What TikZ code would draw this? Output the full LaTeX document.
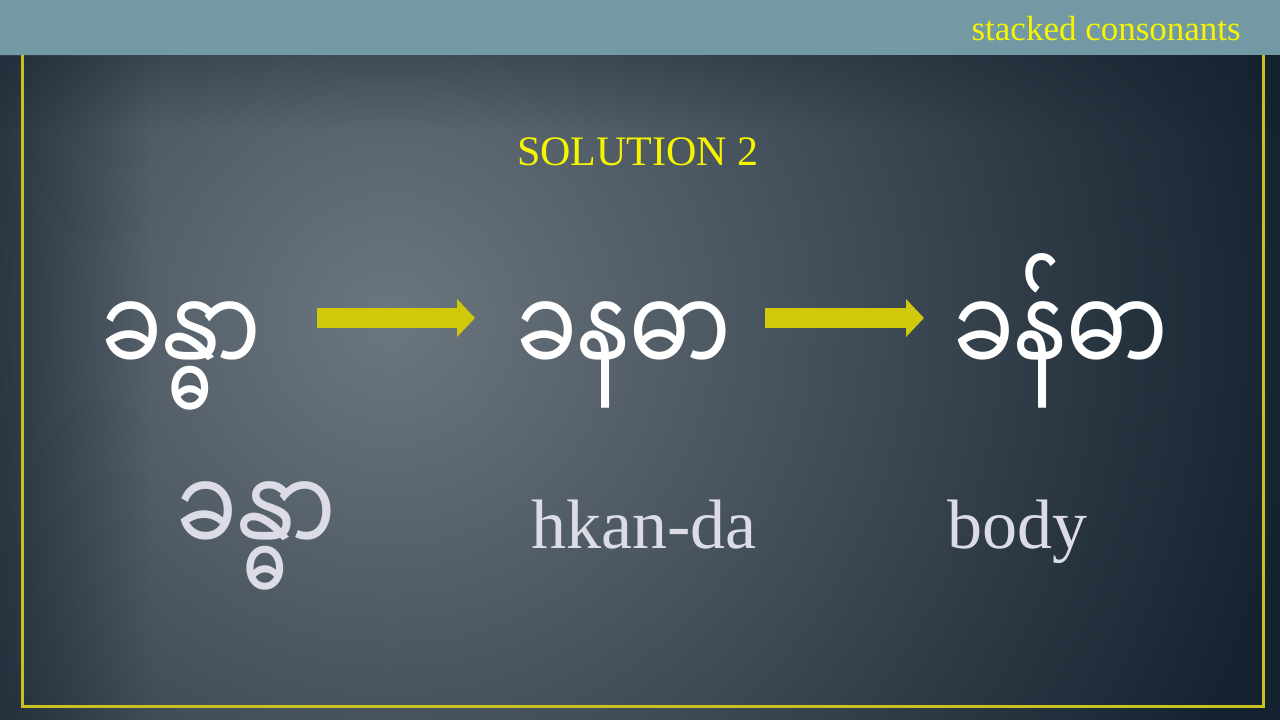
\documentclass[tikz,border=0pt]{standalone}
\usepackage{fontspec}
\setmainfont{Liberation Serif}
\newfontfamily\mmfont[Script=Myanmar]{Noto Sans Myanmar UI}
\usepackage{xcolor}
\usepackage{graphicx}
\usepackage{tikz}
\usetikzlibrary{arrows.meta}
\usetikzlibrary{positioning}
\usetikzlibrary{fadings}
\definecolor{bandblue}{HTML}{7399A5}
\definecolor{bglight}{HTML}{6C767F}
\definecolor{bgdark}{HTML}{14222F}
\definecolor{framegold}{HTML}{C8C21E}
\definecolor{arrowyellow}{HTML}{D0C80A}
\definecolor{titleyellow}{HTML}{F5F500}
\definecolor{glossgray}{HTML}{DCDCE6}
\tikzfading[name=fade right, left color=transparent!0, right color=transparent!100]
\tikzfading[name=fade down, top color=transparent!0, bottom color=transparent!100]
\newcommand{\mmtall}[1]{\scalebox{1}[1.3]{#1}}
\tikzset{>=latex}
\tikzset{word/.style = {text=white, inner sep=0, font=\mmfont\fontsize{90}{100}\selectfont}}
\tikzset{gloss/.style = {text=glossgray, inner sep=0, font=\fontsize{70}{80}\selectfont}}
\tikzset{blockarrow/.style = {draw=arrowyellow, line width=20pt, -{Triangle[width=37pt,length=18pt]}}}

\begin{document}
\begin{tikzpicture}[x=1pt, y=-1pt]
\useasboundingbox (0,0) rectangle (1280,720);
% background
\fill[bgdark] (0,0) rectangle (1280,720);
\begin{scope}
\clip (0,0) rectangle (1280,720);
\shade[inner color=bglight, outer color=bgdark] (390,320) circle (920pt);
\end{scope}
\fill[bgdark, opacity=0.55, path fading=fade right] (0,55) rectangle (150,720);
\fill[bgdark, opacity=0.3, path fading=fade down] (0,55) rectangle (1280,130);
\draw[framegold, line width=3pt] (22,40) rectangle (1263,706);
\fill[bandblue] (0,0) rectangle (1280,55);
\node[anchor=base east, inner sep=0, text=titleyellow, font=\fontsize{35}{40}\selectfont] (header) at (1241,40) {stacked consonants};
\node[inner sep=0, text=titleyellow, font=\fontsize{42}{48}\selectfont] (title) at (638,152) {SOLUTION 2};
% words
\node[word, anchor=base] (w1) at (181,376) {\mmtall{ခန္ဓာ}};
\node[word, anchor=base] (w2) at (624,376) {\mmtall{ခနဓာ}};
\node[word, anchor=base] (w3) at (1061,376) {\mmtall{ခန်ဓာ}};
\draw[blockarrow] ([xshift=136pt, yshift=58pt]w1.base) -- ([xshift=-149pt, yshift=58pt]w2.base);
\draw[blockarrow] ([xshift=141pt, yshift=58pt]w2.base) -- ([xshift=-137pt, yshift=58pt]w3.base);
% glosses
\node[word, text=glossgray, anchor=base] (g1) at (256,556) {\mmtall{ခန္ဓာ}};
\node[gloss, anchor=base] (g2) at (644,548) {hkan-da};
\node[gloss, anchor=base] (g3) at (1017,548) {body};
\end{tikzpicture}
\end{document}
